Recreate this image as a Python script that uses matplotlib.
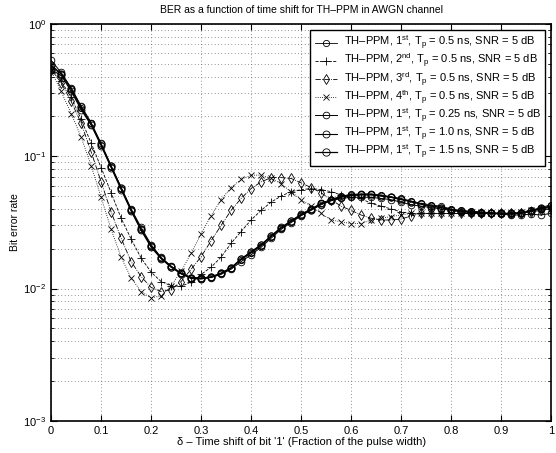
import numpy as np
import matplotlib
matplotlib.use("Agg")
import matplotlib.pyplot as plt

plt.rcParams['font.family'] = ['Liberation Sans', 'DejaVu Sans']
plt.rcParams['mathtext.fontset'] = 'custom'
plt.rcParams['mathtext.rm'] = 'Liberation Sans'
plt.rcParams['mathtext.it'] = 'Liberation Sans:italic'
plt.rcParams['mathtext.default'] = 'rm'

# time shift (fraction of pulse width), step 0.02
delta = np.round(np.arange(0, 51) * 0.02, 2)

ber_1st_05 = [0.47, 0.42, 0.32, 0.23, 0.177, 0.122, 0.083, 0.057, 0.039, 0.028,
              0.021, 0.017, 0.0147, 0.013, 0.012, 0.012, 0.0123, 0.013, 0.0142, 0.0165,
              0.0185, 0.021, 0.0246, 0.0285, 0.032, 0.036, 0.0397, 0.044, 0.047, 0.050,
              0.0516, 0.052, 0.052, 0.051, 0.0495, 0.048, 0.046, 0.044, 0.043, 0.042,
              0.040, 0.039, 0.0385, 0.038, 0.0375, 0.037, 0.037, 0.037, 0.039, 0.041, 0.043]
ber_2nd_05 = [0.46, 0.37, 0.28, 0.19, 0.126, 0.082, 0.053, 0.034, 0.0237, 0.017,
              0.0133, 0.0113, 0.0105, 0.0104, 0.0112, 0.0128, 0.0145, 0.0173, 0.022, 0.027,
              0.033, 0.039, 0.045, 0.050, 0.054, 0.056, 0.057, 0.056, 0.054, 0.051,
              0.049, 0.048, 0.044, 0.042, 0.040, 0.038, 0.037, 0.037, 0.037, 0.037,
              0.037, 0.037, 0.037, 0.037, 0.037, 0.037, 0.037, 0.038, 0.039, 0.040, 0.041]
ber_3rd_05 = [0.45, 0.36, 0.26, 0.178, 0.108, 0.064, 0.038, 0.024, 0.016, 0.0123,
              0.0102, 0.0095, 0.0098, 0.0113, 0.014, 0.0174, 0.023, 0.030, 0.039, 0.048,
              0.057, 0.064, 0.069, 0.069, 0.068, 0.063, 0.058, 0.053, 0.047, 0.042,
              0.039, 0.036, 0.034, 0.033, 0.033, 0.0335, 0.0354, 0.037, 0.037, 0.037,
              0.037, 0.037, 0.037, 0.037, 0.037, 0.037, 0.037, 0.037, 0.038, 0.039, 0.040]
ber_4th_05 = [0.44, 0.31, 0.21, 0.14, 0.085, 0.049, 0.028, 0.0173, 0.012, 0.0095,
              0.0085, 0.0088, 0.0105, 0.0135, 0.0185, 0.026, 0.0355, 0.047, 0.058, 0.067,
              0.072, 0.072, 0.068, 0.062, 0.054, 0.047, 0.042, 0.037, 0.033, 0.032,
              0.031, 0.031, 0.033, 0.034, 0.035, 0.036, 0.037, 0.037, 0.037, 0.037,
              0.037, 0.037, 0.037, 0.037, 0.037, 0.037, 0.037, 0.038, 0.039, 0.040, 0.040]
ber_1st_025 = [0.53, 0.43, 0.33, 0.24, 0.18, 0.125, 0.085, 0.058, 0.040, 0.029,
               0.0215, 0.0172, 0.0148, 0.0131, 0.0121, 0.0119, 0.0121, 0.0128, 0.014, 0.016,
               0.018, 0.0205, 0.024, 0.028, 0.0315, 0.0355, 0.039, 0.043, 0.046, 0.048,
               0.049, 0.049, 0.049, 0.048, 0.047, 0.045, 0.043, 0.042, 0.041, 0.040,
               0.039, 0.038, 0.0375, 0.037, 0.037, 0.0365, 0.036, 0.036, 0.0365, 0.036, 0.037]
ber_1st_10 = [0.45, 0.41, 0.31, 0.225, 0.172, 0.12, 0.082, 0.056, 0.0385, 0.0275,
              0.0205, 0.0168, 0.0145, 0.0129, 0.0119, 0.0118, 0.0122, 0.0131, 0.0144, 0.0168,
              0.019, 0.0215, 0.025, 0.029, 0.0325, 0.0365, 0.040, 0.044, 0.047, 0.0495,
              0.051, 0.0515, 0.0515, 0.0505, 0.049, 0.0475, 0.0455, 0.0435, 0.042, 0.041,
              0.0395, 0.0385, 0.038, 0.0375, 0.037, 0.037, 0.0368, 0.037, 0.0385, 0.040, 0.042]
ber_1st_15 = [0.49, 0.42, 0.325, 0.235, 0.175, 0.123, 0.084, 0.058, 0.0395, 0.028,
              0.021, 0.017, 0.0146, 0.013, 0.0121, 0.012, 0.0122, 0.013, 0.0143, 0.0166,
              0.0188, 0.0212, 0.0248, 0.0288, 0.0322, 0.036, 0.0395, 0.0435, 0.0465, 0.049,
              0.0505, 0.051, 0.051, 0.050, 0.049, 0.047, 0.0455, 0.0435, 0.042, 0.041,
              0.0395, 0.0385, 0.038, 0.0375, 0.037, 0.037, 0.037, 0.0372, 0.0388, 0.0405, 0.042]

labels = [r'TH–PPM, 1$^{\rm st}$, T$_{\rm p}$ = 0.5 ns, SNR = 5 dB',
          r'TH–PPM, 2$^{\rm nd}$, T$_{\rm p}$ = 0.5 ns, SNR = 5 dB',
          r'TH–PPM, 3$^{\rm rd}$, T$_{\rm p}$ = 0.5 ns, SNR = 5 dB',
          r'TH–PPM, 4$^{\rm th}$, T$_{\rm p}$ = 0.5 ns, SNR = 5 dB',
          r'TH–PPM, 1$^{\rm st}$, T$_{\rm p}$ = 0.25 ns, SNR = 5 dB',
          r'TH–PPM, 1$^{\rm st}$, T$_{\rm p}$ = 1.0 ns, SNR = 5 dB',
          r'TH–PPM, 1$^{\rm st}$, T$_{\rm p}$ = 1.5 ns, SNR = 5 dB']

fig = plt.figure(figsize=(5.56, 4.53), dpi=100)
ax = fig.add_axes([0.092, 0.071, 0.899, 0.876])

mk = dict(color='k', markerfacecolor='none', markeredgecolor='k', markeredgewidth=0.6)
ax.semilogy(delta, ber_1st_05, '-o', lw=0.6, ms=4.5, label=labels[0], **mk)
ax.semilogy(delta, ber_2nd_05, '--+', lw=0.6, ms=6, label=labels[1], **mk)
ax.semilogy(delta, ber_3rd_05, '-.d', lw=0.6, ms=5, label=labels[2], **mk)
ax.semilogy(delta, ber_4th_05, ':x', lw=0.6, ms=4, label=labels[3], **mk)
ax.semilogy(delta, ber_1st_025, '-o', lw=0.7, ms=4.8, label=labels[4], **mk)
ax.semilogy(delta, ber_1st_10, '-o', lw=0.8, ms=5.0, label=labels[5], **mk)
ax.semilogy(delta, ber_1st_15, '-o', lw=0.9, ms=5.3, label=labels[6], **mk)

ax.set_xlim(0, 1)
ax.set_ylim(1e-3, 1)
ax.set_xticks(np.arange(0, 1.01, 0.1))
ax.set_xticklabels(['0', '0.1', '0.2', '0.3', '0.4', '0.5', '0.6', '0.7', '0.8', '0.9', '1'])
ax.tick_params(which='both', direction='in', top=True, right=True, labelsize=8)
ax.tick_params(which='major', length=4)
ax.tick_params(which='minor', length=2)
grid_style = dict(linestyle=(0, (0.8, 3.2)), color='0.3', lw=0.6)
ax.grid(True, which='major', **grid_style)
ax.grid(True, which='minor', axis='y', **grid_style)
for s in ax.spines.values():
    s.set_linewidth(1.2)

ax.set_title('BER as a function of time shift for TH–PPM in AWGN channel', fontsize=7.5, pad=8)
ax.set_xlabel("δ – Time shift of bit '1' (Fraction of the pulse width)", fontsize=8, labelpad=1)
ax.set_ylabel('Bit error rate', fontsize=7.5, labelpad=2)

leg = ax.legend(loc='upper right', fontsize=8, frameon=True, fancybox=False,
                edgecolor='k', framealpha=1, labelspacing=0.0, handlelength=2.0,
                borderpad=0.4, handletextpad=0.6, borderaxespad=0.5)
leg.get_frame().set_linewidth(1.0)

fig.savefig('out.png', dpi=100)
